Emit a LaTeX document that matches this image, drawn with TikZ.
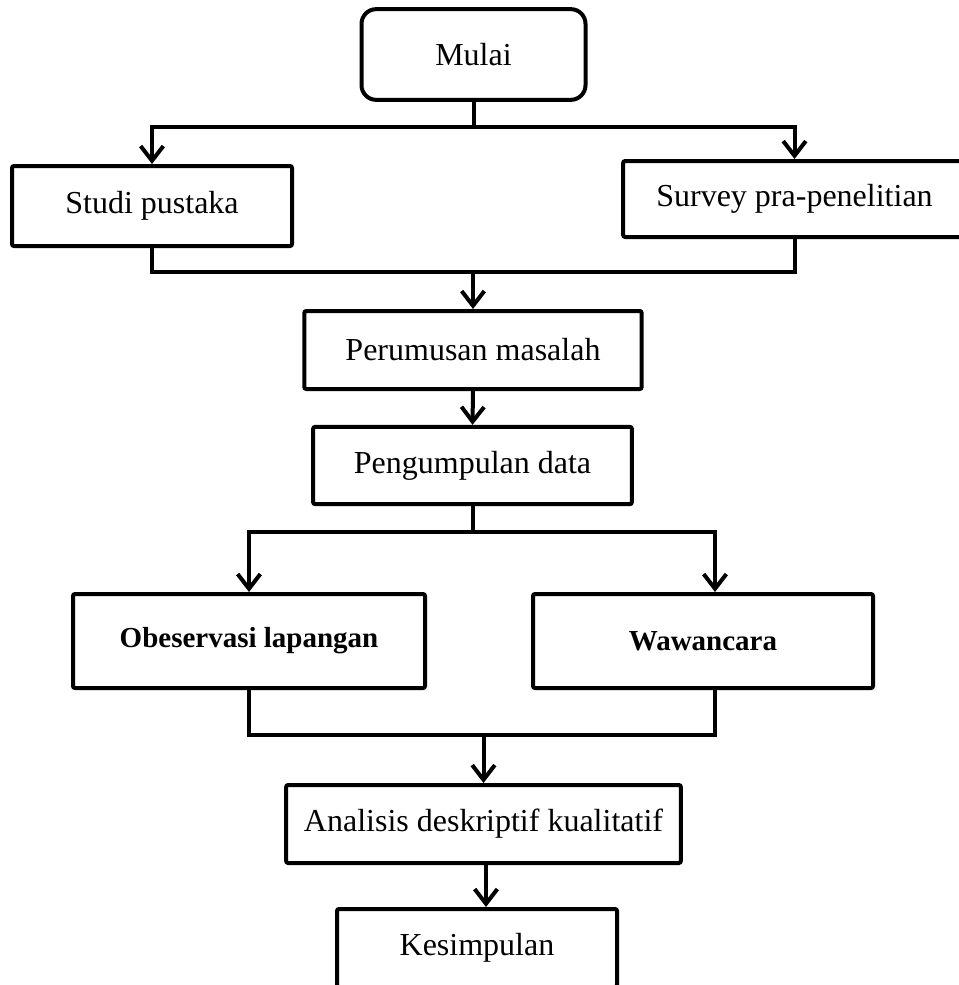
\documentclass[tikz,border=0pt]{standalone}
\usepackage{fontspec}
\setmainfont{Liberation Serif}
\usetikzlibrary{arrows.meta}
\tikzset{
  px/.style={x=0.75pt,y=-0.75pt},
  boxnode/.style={draw=black, line width=3pt, rounded corners=1.5pt, fill=white,
    inner sep=0pt, font=\fontsize{24pt}{28pt}\selectfont},
  boldbox/.style={boxnode, font=\fontsize{21.75pt}{26pt}\selectfont\bfseries},
  startbox/.style={boxnode, rounded corners=11pt},
  conn/.style={draw=black, line width=3pt, line join=miter},
  arr/.style={conn, -{Straight Barb[length=11pt,width=17pt,line width=3pt]}}
}
\begin{document}
\begin{tikzpicture}[px]
\useasboundingbox[fill=white] (0,0) rectangle (958,985);
% nodes (centres and sizes in px)
\node[startbox, minimum width=168pt, minimum height=68pt] (mulai) at (473.5,54.5) {Mulai};
\node[boxnode, minimum width=210pt, minimum height=60pt] (studi) at (152,206) {Studi pustaka};
\node[boxnode, minimum width=257pt, minimum height=57pt] (survey) at (794.5,199) {Survey pra-penelitian};
\node[boxnode, minimum width=253pt, minimum height=58.5pt] (rumus) at (473,350) {Perumusan masalah};
\node[boxnode, minimum width=239pt, minimum height=58pt] (kumpul) at (472.5,465.5) {Pengumpulan data};
\node[boldbox, minimum width=264pt, minimum height=70.5pt] (obs) at (249,641) {Obeservasi lapangan};
\node[boldbox, minimum width=255pt, minimum height=70.5pt] (waw) at (703,641) {Wawancara};
\node[boxnode, minimum width=296pt, minimum height=58.5pt] (ana) at (483.5,824) {Analisis deskriptif kualitatif};
\node[boxnode, minimum width=210pt, minimum height=58.5pt] (kes) at (477,948) {Kesimpulan};
% split after Mulai
\coordinate (s1) at (mulai.south |- 0,127);
\draw[conn] (mulai.south) -- (s1);
\draw[arr] (s1) -| (studi.north);
\draw[arr] (s1) -| (survey.north);
% join into Perumusan
\coordinate (j1) at (rumus.north |- 0,272);
\draw[conn] (studi.south) |- (j1);
\draw[conn] (survey.south) |- (j1);
\draw[arr] (j1) -- (rumus.north);
% Perumusan -> Pengumpulan
\draw[arr] (rumus.south) -- (kumpul.north);
% split after Pengumpulan
\coordinate (s2) at (kumpul.south |- 0,532);
\coordinate (wawin) at (715,0 |- waw.north);
\draw[conn] (kumpul.south) -- (s2);
\draw[arr] (s2) -| (obs.north);
\draw[arr] (s2) -| (wawin);
% join into Analisis
\coordinate (wawout) at (715,0 |- waw.south);
\coordinate (j2) at (ana.north |- 0,735);
\draw[conn] (obs.south) |- (j2);
\draw[conn] (wawout) |- (j2);
\draw[arr] (j2) -- (ana.north);
% Analisis -> Kesimpulan
\coordinate (aout) at (486,0 |- ana.south);
\coordinate (kin) at (486,0 |- kes.north);
\draw[arr] (aout) -- (kin);
\end{tikzpicture}
\end{document}
